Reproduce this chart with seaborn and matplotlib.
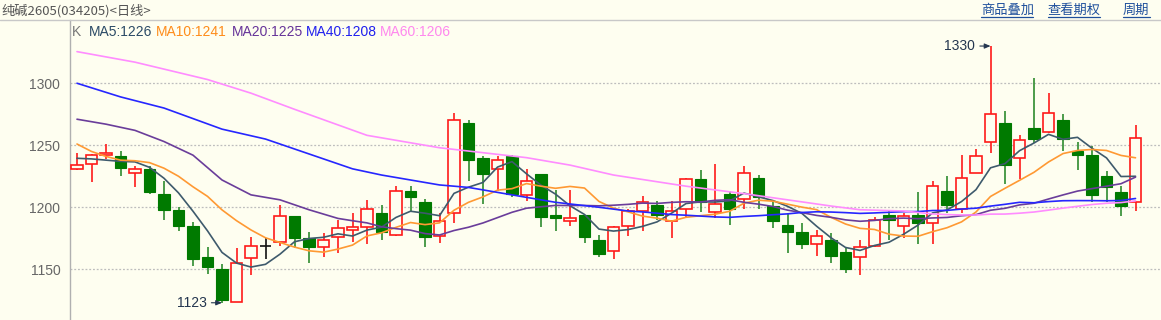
import numpy as np
import pandas as pd
import matplotlib
matplotlib.use("Agg")
import matplotlib.pyplot as plt
from matplotlib.lines import Line2D
import seaborn as sns

# ---------------- data (daily K-line) ----------------
opens = [1231, 1235, 1242, 1241, 1228, 1231, 1211, 1198, 1185, 1160,
         1150, 1124, 1159, 1169, 1172, 1193, 1175, 1168, 1176, 1182,
         1184, 1195, 1178, 1213, 1204, 1177, 1195, 1268, 1240, 1231,
         1241, 1210, 1227, 1194, 1189, 1194, 1174, 1165, 1185, 1197,
         1202, 1189, 1199, 1223, 1196, 1211, 1207, 1224, 1201, 1186,
         1180, 1170, 1174, 1164, 1160, 1169, 1194, 1185, 1194, 1187,
         1213, 1199, 1228, 1253, 1268, 1240, 1264, 1261, 1270, 1245,
         1242, 1225, 1212, 1204]
highs = [1244, 1243, 1251, 1245, 1233, 1233, 1221, 1200, 1188, 1168,
         1154, 1167, 1176, 1175, 1202, 1193, 1180, 1179, 1190, 1195,
         1206, 1202, 1217, 1217, 1207, 1195, 1276, 1270, 1241, 1241,
         1242, 1231, 1227, 1214, 1214, 1194, 1178, 1185, 1199, 1209,
         1205, 1205, 1224, 1230, 1235, 1213, 1233, 1226, 1206, 1195,
         1187, 1182, 1179, 1168, 1174, 1192, 1198, 1195, 1212, 1221,
         1225, 1242, 1247, 1330, 1278, 1258, 1304, 1292, 1275, 1253,
         1249, 1229, 1217, 1266]
lows = [1230, 1220, 1239, 1225, 1216, 1211, 1190, 1181, 1153, 1146,
        1123, 1124, 1145, 1158, 1169, 1167, 1155, 1160, 1163, 1172,
        1170, 1174, 1177, 1196, 1168, 1171, 1187, 1221, 1203, 1213,
        1208, 1205, 1184, 1181, 1185, 1171, 1160, 1158, 1177, 1181,
        1190, 1175, 1192, 1196, 1191, 1186, 1199, 1199, 1183, 1163,
        1166, 1161, 1155, 1147, 1145, 1168, 1174, 1175, 1170, 1170,
        1195, 1195, 1228, 1244, 1219, 1223, 1252, 1260, 1245, 1230,
        1204, 1204, 1193, 1197]
closes = [1234, 1242, 1244, 1232, 1231, 1212, 1198, 1185, 1158, 1152,
          1125, 1155, 1169, 1169, 1193, 1175, 1168, 1174, 1183, 1184,
          1199, 1180, 1213, 1208, 1176, 1189, 1270, 1238, 1227, 1238,
          1211, 1221, 1192, 1191, 1191, 1176, 1162, 1184, 1197, 1204,
          1194, 1197, 1223, 1204, 1203, 1199, 1228, 1208, 1189, 1180,
          1170, 1177, 1161, 1150, 1168, 1190, 1190, 1193, 1187, 1217,
          1202, 1224, 1241, 1275, 1234, 1254, 1255, 1276, 1255, 1242,
          1210, 1216, 1201, 1256]

ma5_head_idx = [0, 1, 2, 3]
ma5_head_val = [1239.5, 1239, 1238, 1237]
ma10_head_idx = [0, 1, 2, 3, 4, 5, 6, 7, 8]
ma10_head_val = [1251, 1245, 1241, 1238, 1237.5, 1236, 1231.5, 1225, 1216.5]
ma20_head_idx = [0, 2, 4, 6, 8, 10, 12, 14, 16, 18]
ma20_head_val = [1271, 1267, 1262, 1253, 1242, 1222, 1210, 1206, 1198, 1191]
ma40_head_idx = [0, 3, 6, 10, 13, 15, 19, 21, 25, 27, 30, 33, 36, 38]
ma40_head_val = [1300, 1289, 1280, 1263, 1255, 1247, 1231, 1226, 1218, 1216, 1210, 1204, 1200, 1197]
ma60_head_idx = [0, 4, 9, 12, 15, 20, 25, 28, 31, 34, 37, 42, 46, 52, 54, 57]
ma60_head_val = [1325.5, 1317, 1303, 1292, 1279, 1258, 1248, 1244, 1240, 1234, 1226, 1217, 1211, 1201, 1198, 1197]

y_ticks = [1150, 1200, 1250, 1300]
title_text = "纯碱2605(034205)<日线>"
links = ["商品叠加", "查看期权", "周期"]
legend_items = [("K", "#777777"), ("MA5:1226", "#2B4A66"), ("MA10:1241", "#FF8C1A"),
                ("MA20:1225", "#663399"), ("MA40:1208", "#2020EE"), ("MA60:1206", "#FF88EE")]
ma_names = ["MA5", "MA10", "MA20", "MA40", "MA60"]
ma_colors = {"MA5": "#3E5A6C", "MA10": "#FF9933", "MA20": "#6A3D9A",
             "MA40": "#2626FF", "MA60": "#FF8CFF"}

# ---------------- style ----------------
W, H = 1161, 320
BG = "#FEFEF0"
sns.set_theme(style="white")
plt.rcParams["font.family"] = ["Liberation Sans", "Noto Sans CJK SC", "DejaVu Sans"]

fig = plt.figure(figsize=(W / 100, H / 100), dpi=100, facecolor=BG)
ax = fig.add_axes([70 / W, 0, 1 - 70 / W, (H - 20) / H], facecolor=BG)

n = len(closes)
idx = np.arange(n)
s = pd.Series(closes, dtype=float)

def build(head_idx, head_val, window):
    calc = s.rolling(window).mean()
    start = window - 1
    xs = list(head_idx) + list(range(start, n))
    ys = list(head_val) + list(calc.iloc[start:])
    return xs, ys

rows = []
for name, hi, hv, w in [("MA60", ma60_head_idx, ma60_head_val, 60),
                        ("MA40", ma40_head_idx, ma40_head_val, 40),
                        ("MA20", ma20_head_idx, ma20_head_val, 20),
                        ("MA10", ma10_head_idx, ma10_head_val, 10),
                        ("MA5", ma5_head_idx, ma5_head_val, 5)]:
    xs, ys = build(hi, hv, w)
    for k, (xv, yv) in enumerate(zip(xs, ys)):
        rows.append({"name": name, "i": xv, "v": yv, "order": k})
ma_df = pd.DataFrame(rows)

# candles
o = np.array(opens, float); c = np.array(closes, float)
hgh = np.array(highs, float); lw_ = np.array(lows, float)
up = c > o
down = c < o
flat = c == o
RED, GREEN, GREEN_W = "#FF1A1A", "#007A00", "#2E8B2E"
bw = 0.8

ax.vlines(idx[up], lw_[up], hgh[up], color=RED, lw=1.2, zorder=2)
ax.vlines(idx[down], lw_[down], hgh[down], color=GREEN_W, lw=1.2, zorder=2)
ax.vlines(idx[flat], lw_[flat], hgh[flat], color="#111111", lw=1.2, zorder=2)
ax.bar(idx[up], (c - o)[up], bottom=o[up], width=bw, facecolor=BG,
       edgecolor=RED, linewidth=1.2, zorder=3)
ax.bar(idx[down], (o - c)[down], bottom=c[down], width=bw, facecolor=GREEN,
       edgecolor=GREEN, linewidth=0.8, zorder=3)
ax.hlines(c[flat], idx[flat] - bw / 2, idx[flat] + bw / 2, color="#111111", lw=1.2, zorder=3)

for name in ma_names:
    d = ma_df[ma_df["name"] == name]
    sns.lineplot(data=d, x="i", y="v", color=ma_colors[name], lw=1.2,
                 sort=False, estimator=None, ax=ax, zorder=4)

# annotations of extreme values
i_max = int(np.argmax(hgh)); i_min = int(np.argmin(lw_))
for i_pt, val in [(i_max, hgh[i_max]), (i_min, lw_[i_min])]:
    ax.annotate(f"{int(val)}", xy=(i_pt, val), xytext=(-11, 0), textcoords="offset points",
                ha="right", va="center", fontsize=10, color="#24364F",
                arrowprops=dict(arrowstyle="-|>,head_length=0.35,head_width=0.15",
                                color="#24364F", lw=0.8, shrinkA=1, shrinkB=0), zorder=6)

# axes cosmetics
ax.set_xlim(-7 / 14.5, (W - 77) / 14.5)
ax.set_ylim(1109.1, 1351.0)
ax.set_yticks(y_ticks)
ax.set_yticklabels([str(t) for t in y_ticks])
ax.set_xticks([])
ax.set_xlabel(""); ax.set_ylabel("")
ax.tick_params(axis="y", length=0, pad=7, labelsize=10, labelcolor="#666666")
for t in y_ticks:
    ax.axhline(t, color="#BDBDBD", lw=0.9, ls=(0, (1.5, 1.5)), zorder=1)
for sp in ["top", "right", "bottom"]:
    ax.spines[sp].set_visible(False)
ax.spines["left"].set_color("#B0B0B0")
ax.spines["left"].set_linewidth(1.0)

# header
def fx(px): return px / W
def fy(py): return 1 - py / H

fig.add_artist(Line2D([0, 1], [fy(19.5), fy(19.5)], color="#C8C8C8", lw=1.0))
fig.text(fx(1), fy(10.5), title_text, fontsize=9.5, color="#555555", ha="left", va="center",
         family=["Noto Sans CJK SC", "DejaVu Sans"])
link_x = [(981, 1033), (1048, 1100), (1123, 1150)]
for txt, (x0, x1) in zip(links, link_x):
    fig.text(fx(x0), fy(10.5), txt, fontsize=9.5, color="#1E4F9C", ha="left", va="center",
             family=["Noto Sans CJK SC", "DejaVu Sans"])
    fig.add_artist(Line2D([fx(x0), fx(x1)], [fy(17), fy(17)], color="#1E4F9C", lw=0.9))

leg_x = [72, 89, 156, 232, 306, 380]
for (txt, col), x0 in zip(legend_items, leg_x):
    fig.text(fx(x0), fy(32), txt, fontsize=10, color=col, ha="left", va="center")

fig.savefig("out.png", dpi=100, facecolor=BG)
